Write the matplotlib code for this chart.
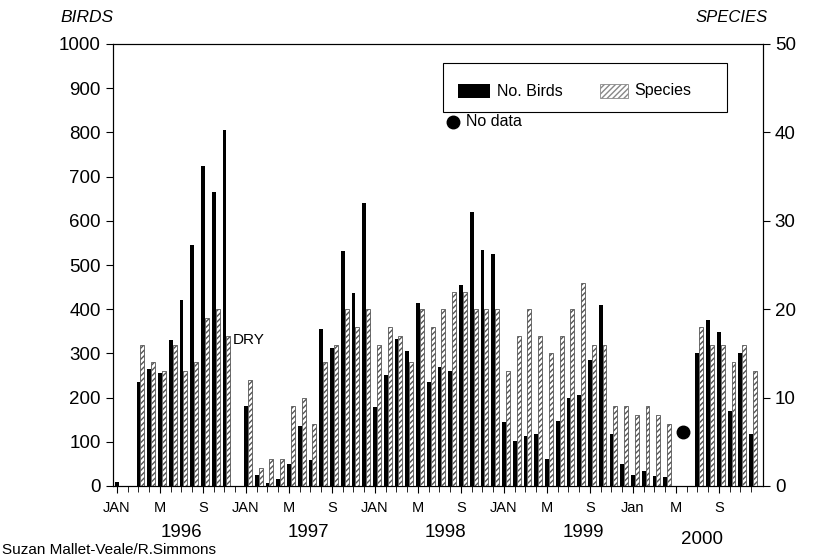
import numpy as np
import matplotlib
matplotlib.use('Agg')
import matplotlib.pyplot as plt
from matplotlib.patches import Rectangle
from matplotlib.lines import Line2D

plt.rcParams['font.family'] = ['Liberation Sans', 'DejaVu Sans']

nan = np.nan

# Monthly counts, Jan 1996 .. Dec 2000 (nan = not counted)
birds_1996 = [10, nan, 235, 265, 255, 330, 420, 545, 725, 665, 805, nan]
birds_1997 = [180, 25, 6, 15, 50, 135, 58, 355, 312, 532, 437, 640]
birds_1998 = [178, 252, 332, 305, 415, 235, 270, 260, 455, 620, 533, 525]
birds_1999 = [145, 102, 112, 118, 62, 147, 200, 207, 284, 410, 117, 50]
birds_2000 = [25, 35, 22, 20, nan, nan, 300, 375, 348, 170, 300, 118]

species_1996 = [0, nan, 16, 14, 13, 16, 13, 14, 19, 20, 17, nan]
species_1997 = [12, 2, 3, 3, 9, 10, 7, 14, 16, 20, 18, 20]
species_1998 = [16, 18, 17, 14, 20, 18, 20, 22, 22, 20, 20, 20]
species_1999 = [13, 17, 20, 17, 15, 17, 20, 23, 16, 16, 9, 9]
species_2000 = [8, 9, 8, 7, nan, nan, 18, 16, 16, 14, 16, 13]

month_labels = ['JAN', 'M', 'S', 'JAN', 'M', 'S', 'JAN', 'M', 'S',
                'JAN', 'M', 'S', 'Jan', 'M', 'S']
year_labels = ['1996', '1997', '1998', '1999', '2000']

no_data_month = 52.7
no_data_birds = 122
dry_month = 10.8
dry_birds = 330

birds = np.array(birds_1996 + birds_1997 + birds_1998 + birds_1999 + birds_2000, dtype=float)
species = np.array(species_1996 + species_1997 + species_1998 + species_1999 + species_2000, dtype=float)
months = np.arange(len(birds))

W, H = 813, 560
fig = plt.figure(figsize=(W / 100, H / 100), dpi=100)
ax = fig.add_axes([112.7 / W, 1 - 486 / H, (763 - 112.7) / W, (486 - 44) / H])
ax2 = ax.twinx()

bw = 0.36
ax.bar(months, np.nan_to_num(birds), width=bw, color='black', zorder=3)
ax2.bar(months + bw, np.nan_to_num(species), width=bw, facecolor='white',
        edgecolor='#555555', hatch='//////', linewidth=0.6, zorder=2)

ax.set_xlim(-0.4, 60.1)
ax.set_ylim(0, 1000)
ax2.set_ylim(0, 50)
ax.set_yticks(np.arange(0, 1001, 100))
ax2.set_yticks(np.arange(0, 51, 10))

ax.set_xticks(np.arange(0, 60, 4))
ax.set_xticklabels(month_labels, fontsize=10.5)
ax.set_xticks(months, minor=True)
ax.tick_params(axis='x', which='major', direction='out', length=5, pad=6, width=0.8)
ax.tick_params(axis='x', which='minor', direction='out', length=4, width=0.6)
ax.tick_params(axis='y', direction='out', length=5, labelsize=13.5, width=0.8)
ax2.tick_params(axis='y', direction='out', length=5, labelsize=13.5, width=0.8)

for a in (ax, ax2):
    for s in a.spines.values():
        s.set_linewidth(0.8)

# year labels under the month labels
year_x = [6.0, 17.8, 30.6, 43.4, 54.4]
year_y = [-0.105, -0.105, -0.105, -0.105, -0.122]
for x, y, t in zip(year_x, year_y, year_labels):
    ax.text(x, y, t, transform=ax.get_xaxis_transform(), ha='center', va='center', fontsize=13.5)

ax.text(dry_month, dry_birds, 'DRY', fontsize=11, va='center', ha='left', zorder=5)
ax.plot(no_data_month, no_data_birds, 'o', color='black', markersize=9, zorder=5)

fig.text(60 / W, 1 - 18 / H, 'BIRDS', style='italic', fontsize=12.5, ha='left', va='center')
fig.text(768 / W, 1 - 18 / H, 'SPECIES', style='italic', fontsize=12, ha='right', va='center')
fig.text(2 / W, 1 - 550 / H, 'Suzan Mallet-Veale/R.Simmons', fontsize=11, ha='left', va='center')

# legend drawn by hand
def px(x, y):
    return x / W, 1 - y / H

fig.patches.append(Rectangle(px(443, 112), 284 / W, 49 / H, fill=False, linewidth=0.8,
                             edgecolor='black', transform=fig.transFigure, figure=fig))
fig.patches.append(Rectangle(px(458, 98), 32 / W, 14 / H, facecolor='black',
                             transform=fig.transFigure, figure=fig))
fig.patches.append(Rectangle(px(600, 98), 28 / W, 14 / H, facecolor='white', edgecolor='#888888',
                             hatch='//////', linewidth=0.6, transform=fig.transFigure, figure=fig))
fig.text(*px(497, 91), 'No. Birds', fontsize=11.5, va='center', ha='left')
fig.text(*px(634, 91), 'Species', fontsize=11.5, va='center', ha='left')
fig.lines.append(Line2D([453 / W], [1 - 122 / H], marker='o', color='black', markersize=9,
                        transform=fig.transFigure, figure=fig))
fig.text(*px(466, 122), 'No data', fontsize=11.5, va='center', ha='left')

fig.savefig('out.png', dpi=100)
